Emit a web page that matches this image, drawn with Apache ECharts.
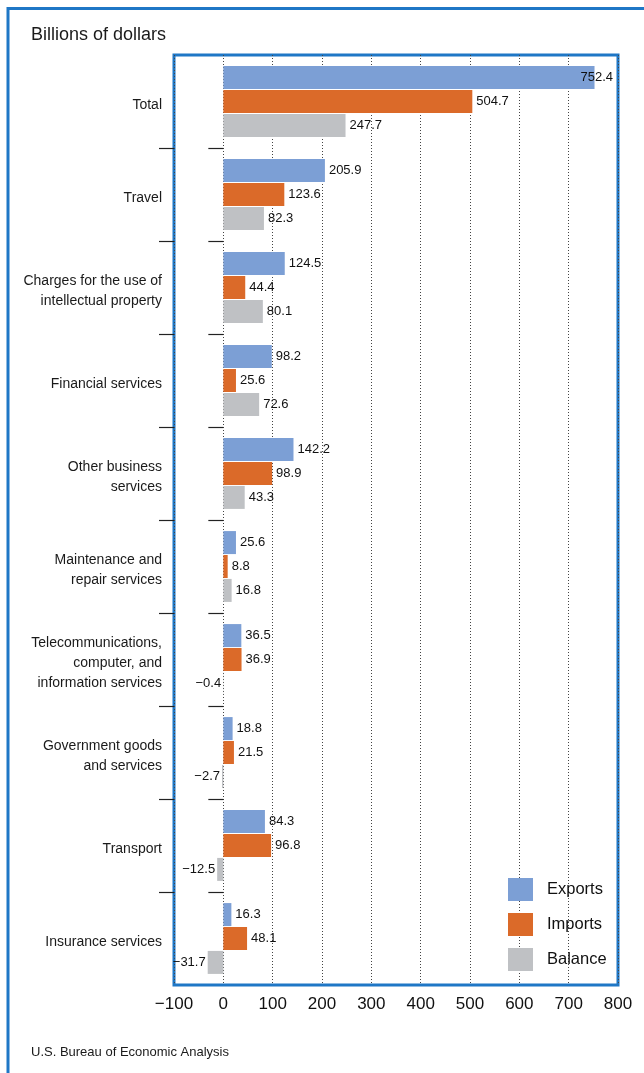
<!DOCTYPE html>
<html>
<head>
	<meta charset="utf-8">
	<title>Services trade by type</title>
	<script src="https://cdn.jsdelivr.net/npm/echarts@6/dist/echarts.min.js"></script>
	<style>
		html, body { margin: 0; padding: 0; background: #fff; }
	</style>
</head>
<body>
	<div id="main" style="width: 644px;height: 1073px"></div>
	<script type="text/javascript">
		var categories = [
			'Total',
			'Travel',
			'Charges for the use of\nintellectual property',
			'Financial services',
			'Other business\nservices',
			'Maintenance and\nrepair services',
			'Telecommunications,\ncomputer, and\ninformation services',
			'Government goods\nand services',
			'Transport',
			'Insurance services'
		];
		var exportsData = [752.4, 205.9, 124.5, 98.2, 142.2, 25.6, 36.5, 18.8, 84.3, 16.3];
		var importsData = [504.7, 123.6, 44.4, 25.6, 98.9, 8.8, 36.9, 21.5, 96.8, 48.1];
		var balanceData = [247.7, 82.3, 80.1, 72.6, 43.3, 16.8, -0.4, -2.7, -12.5, -31.7];

		var blue = '#1f77c6';
		var font = '"Liberation Sans", Arial, sans-serif';

		// one slot per boundary between categories (plus the two edges), used only for the tick marks
		var boundaries = categories.map(function () { return ''; }).concat(['']);

		function minus(v) {
			return String(v).replace('-', '\u2212');
		}
		// labels of negative bars go to the left, the long total bar keeps its label on the end
		function toItems(arr) {
			return arr.map(function (v) {
				if (v < 0) return {value: v, label: {position: 'left', distance: 2}};
				if (v > 700) return {value: v, label: {offset: [-18, 0]}};
				return v;
			});
		}
		// ticks only between categories, not on the frame edges
		function innerTicks(index) {
			return index > 0 && index < boundaries.length - 1;
		}

		var barLabel = {
			show: true,
			position: 'right',
			distance: 4,
			fontSize: 13,
			fontFamily: font,
			color: '#111',
			formatter: function (p) { return minus(p.value); }
		};
		var tickStyle = {color: '#222', width: 1.2};

		var myChart = echarts.init(document.getElementById('main'));
		var option = {
			backgroundColor: '#fff',
			animation: false,
			textStyle: {fontFamily: font},
			title: [
				{
					text: 'Billions of dollars',
					left: 31,
					top: 26,
					padding: 0,
					textStyle: {fontSize: 18, fontWeight: 'normal', color: '#1a1a1a', fontFamily: font}
				},
				{
					text: 'U.S. Bureau of Economic Analysis',
					left: 31,
					top: 1046,
					padding: 0,
					textStyle: {fontSize: 13, fontWeight: 'normal', color: '#1a1a1a', fontFamily: font}
				}
			],
			graphic: [
				{
					type: 'polyline',
					shape: {points: [[8, 1073], [8, 8.5], [644, 8.5]]},
					style: {stroke: blue, lineWidth: 3, fill: null}
				}
			],
			grid: {
				left: 174,
				right: 26,
				top: 55,
				bottom: 88,
				show: true,
				borderColor: blue,
				borderWidth: 3,
				backgroundColor: 'transparent'
			},
			legend: {
				orient: 'vertical',
				left: 508,
				top: 878,
				padding: 0,
				itemWidth: 25,
				itemHeight: 23,
				itemGap: 12,
				icon: 'rect',
				textStyle: {fontSize: 16.5, color: '#111', fontFamily: font, padding: [0, 0, 0, 9]},
				data: ['Exports', 'Imports', 'Balance']
			},
			xAxis: {
				type: 'value',
				min: -100,
				max: 800,
				interval: 100,
				axisLine: {show: false},
				axisTick: {show: false},
				axisLabel: {
					fontSize: 17,
					color: '#111',
					margin: 11,
					fontFamily: font,
					formatter: function (v) { return minus(v); }
				},
				splitLine: {
					show: true,
					lineStyle: {type: [1, 2], color: '#444', width: 1}
				}
			},
			yAxis: [
				{
					// category names
					type: 'category',
					data: categories,
					inverse: true,
					axisLine: {show: false, onZero: false},
					axisTick: {show: false},
					axisLabel: {
						fontSize: 14,
						lineHeight: 20,
						color: '#1a1a1a',
						margin: 12,
						fontFamily: font,
						formatter: function (v) { return '{s|}\n' + v; },
						rich: {s: {lineHeight: 8, fontSize: 1}}
					}
				},
				{
					// ticks outside the frame
					type: 'category',
					data: boundaries,
					boundaryGap: false,
					inverse: true,
					position: 'left',
					axisLine: {show: false, onZero: false},
					axisTick: {show: true, length: 15, interval: innerTicks, lineStyle: tickStyle},
					axisLabel: {show: false}
				},
				{
					// ticks along the zero line
					type: 'category',
					data: boundaries,
					boundaryGap: false,
					inverse: true,
					position: 'right',
					axisLine: {show: true, onZero: true, lineStyle: {opacity: 0}},
					axisTick: {show: true, inside: true, length: 15, interval: innerTicks, lineStyle: tickStyle},
					axisLabel: {show: false}
				}
			],
			series: [
				{
					name: 'Exports',
					type: 'bar',
					barWidth: 23,
					barGap: '4%',
					itemStyle: {color: '#7c9fd5'},
					label: barLabel,
					data: toItems(exportsData)
				},
				{
					name: 'Imports',
					type: 'bar',
					barWidth: 23,
					barGap: '4%',
					itemStyle: {color: '#db6a29'},
					label: barLabel,
					data: toItems(importsData)
				},
				{
					name: 'Balance',
					type: 'bar',
					barWidth: 23,
					barGap: '4%',
					itemStyle: {color: '#bfc1c4'},
					label: barLabel,
					data: toItems(balanceData)
				}
			]
		};
		myChart.setOption(option);
	</script>
</body>
</html>
